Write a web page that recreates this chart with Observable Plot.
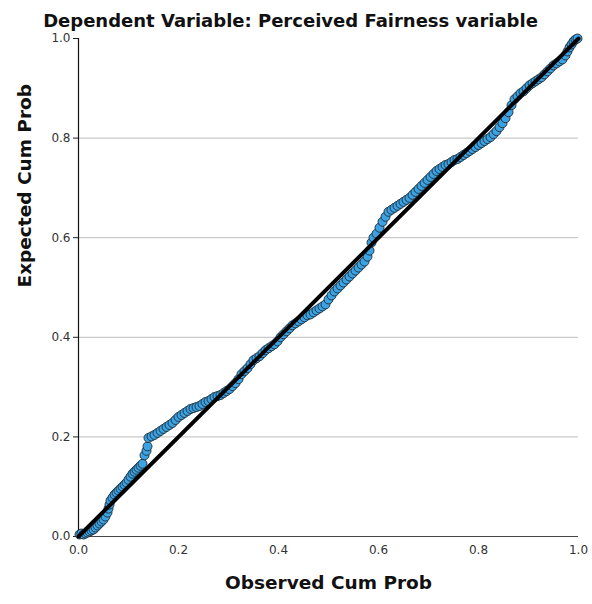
<!DOCTYPE html>
<html>
<head>
<meta charset="utf-8">
<script src="https://cdn.jsdelivr.net/npm/d3@7"></script>
<script src="https://cdn.jsdelivr.net/npm/@observablehq/plot@0.6"></script>
<style>
  html, body { margin: 0; padding: 0; background: #fff; }
  #chart { width: 592px; height: 604px; }
</style>
</head>
<body>
<div id="chart"></div>
<script>
const title = "Dependent Variable: Perceived Fairness variable";
const xLabel = "Observed Cum Prob";
const yLabel = "Expected Cum Prob";
const tickValues = [0, 0.2, 0.4, 0.6, 0.8, 1.0];
const gridValues = [0.2, 0.4, 0.6, 0.8];

const observed = [
  0.002,0.006,0.010,0.014,0.018,0.022,0.026,0.030,0.034,0.038,0.042,0.046,0.050,0.054,0.058,0.060,0.062,0.064,0.068,0.072,
  0.076,0.080,0.084,0.088,0.092,0.096,0.100,0.104,0.108,0.112,0.116,0.120,0.124,0.128,0.132,0.136,0.138,0.140,0.146,0.152,
  0.158,0.164,0.170,0.176,0.182,0.188,0.194,0.200,0.206,0.212,0.218,0.224,0.230,0.236,0.242,0.248,0.254,0.260,0.266,0.272,
  0.278,0.284,0.290,0.296,0.302,0.308,0.314,0.320,0.326,0.332,0.338,0.344,0.350,0.356,0.362,0.368,0.374,0.380,0.386,0.392,
  0.398,0.404,0.410,0.416,0.422,0.428,0.434,0.440,0.446,0.452,0.458,0.464,0.470,0.476,0.482,0.488,0.494,0.500,0.506,0.512,
  0.518,0.524,0.530,0.536,0.542,0.548,0.554,0.560,0.566,0.572,0.578,0.582,0.586,0.590,0.596,0.602,0.608,0.614,0.620,0.626,
  0.632,0.638,0.644,0.650,0.656,0.662,0.668,0.674,0.680,0.686,0.692,0.698,0.704,0.710,0.716,0.722,0.728,0.734,0.740,0.746,
  0.752,0.758,0.764,0.770,0.776,0.782,0.788,0.794,0.800,0.806,0.812,0.818,0.824,0.830,0.836,0.842,0.848,0.854,0.860,0.866,
  0.872,0.878,0.884,0.890,0.896,0.902,0.908,0.914,0.920,0.926,0.932,0.938,0.944,0.950,0.956,0.962,0.968,0.974,0.978,0.982,
  0.986,0.990,0.994,0.998
];
const expected = [
  0.004,0.006,0.004,0.006,0.008,0.010,0.012,0.014,0.018,0.022,0.026,0.030,0.034,0.040,0.048,0.056,0.064,0.072,0.078,0.084,
  0.088,0.092,0.096,0.100,0.104,0.108,0.114,0.120,0.126,0.130,0.134,0.138,0.142,0.146,0.163,0.172,0.181,0.198,0.201,0.204,
  0.208,0.212,0.216,0.220,0.224,0.228,0.234,0.240,0.244,0.248,0.252,0.256,0.258,0.260,0.262,0.266,0.270,0.272,0.276,0.280,
  0.282,0.284,0.288,0.292,0.296,0.302,0.308,0.316,0.326,0.332,0.338,0.346,0.354,0.358,0.362,0.368,0.374,0.378,0.382,0.386,
  0.392,0.400,0.406,0.412,0.418,0.424,0.428,0.432,0.436,0.440,0.444,0.446,0.450,0.454,0.458,0.462,0.466,0.476,0.484,0.492,
  0.498,0.504,0.510,0.516,0.522,0.528,0.534,0.540,0.546,0.552,0.562,0.574,0.590,0.600,0.608,0.620,0.632,0.642,0.652,0.656,
  0.660,0.664,0.668,0.672,0.676,0.680,0.686,0.692,0.698,0.704,0.710,0.716,0.722,0.728,0.734,0.738,0.742,0.746,0.748,0.752,
  0.756,0.758,0.762,0.766,0.770,0.774,0.778,0.782,0.786,0.790,0.794,0.798,0.802,0.808,0.814,0.822,0.830,0.840,0.852,0.866,
  0.878,0.884,0.890,0.894,0.900,0.906,0.910,0.914,0.918,0.922,0.928,0.934,0.940,0.946,0.950,0.954,0.958,0.966,0.974,0.982,
  0.988,0.994,0.998,1.000
];
const refLine = [0, 1];

const points = observed.map((x, i) => ({x, y: expected[i]}));
const lineData = refLine.map(v => ({x: v, y: v}));

const font = "'DejaVu Sans', sans-serif";

const chart = Plot.plot({
  width: 592,
  height: 604,
  marginTop: 38,
  marginBottom: 68,
  marginLeft: 78,
  marginRight: 14,
  style: {fontFamily: font, background: "#fff", overflow: "visible"},
  x: {domain: [0, 1], ticks: tickValues, tickFormat: d3.format(".1f"), label: null},
  y: {domain: [0, 1], ticks: tickValues, tickFormat: d3.format(".1f"), label: null},
  marks: [
    Plot.ruleY(gridValues, {stroke: "#bdbdbd", strokeWidth: 1}),
    Plot.axisX({ticks: tickValues, tickFormat: d3.format(".1f"), tickSize: 0, tickPadding: 9, fontSize: 12, fill: "#333", label: null}),
    Plot.axisY({ticks: tickValues, tickFormat: d3.format(".1f"), tickSize: 5, tickPadding: 3, fontSize: 12, fill: "#333", stroke: "#222", label: null}),
    Plot.ruleY([0], {stroke: "#444", strokeWidth: 1.2}),
    Plot.ruleX([0], {stroke: "#111", strokeWidth: 1.2}),
    Plot.dot(points, {x: "x", y: "y", r: 4.5, fill: "#3ba2e3", stroke: "#1e2a33", strokeWidth: 0.9}),
    Plot.line(lineData, {x: "x", y: "y", stroke: "#000", strokeWidth: 4}),
    Plot.text([title], {frameAnchor: "top", dy: -24, fontSize: 18, fontWeight: "bold", fill: "#111", dx: -38}),
    Plot.text([xLabel], {frameAnchor: "bottom", dy: 52, fontSize: 18.5, fontWeight: "bold", fill: "#111"}),
    Plot.text([yLabel], {frameAnchor: "left", dx: -53, rotate: -90, fontSize: 18.5, fontWeight: "bold", fill: "#111"})
  ]
});
document.getElementById("chart").appendChild(chart);
</script>
</body>
</html>
